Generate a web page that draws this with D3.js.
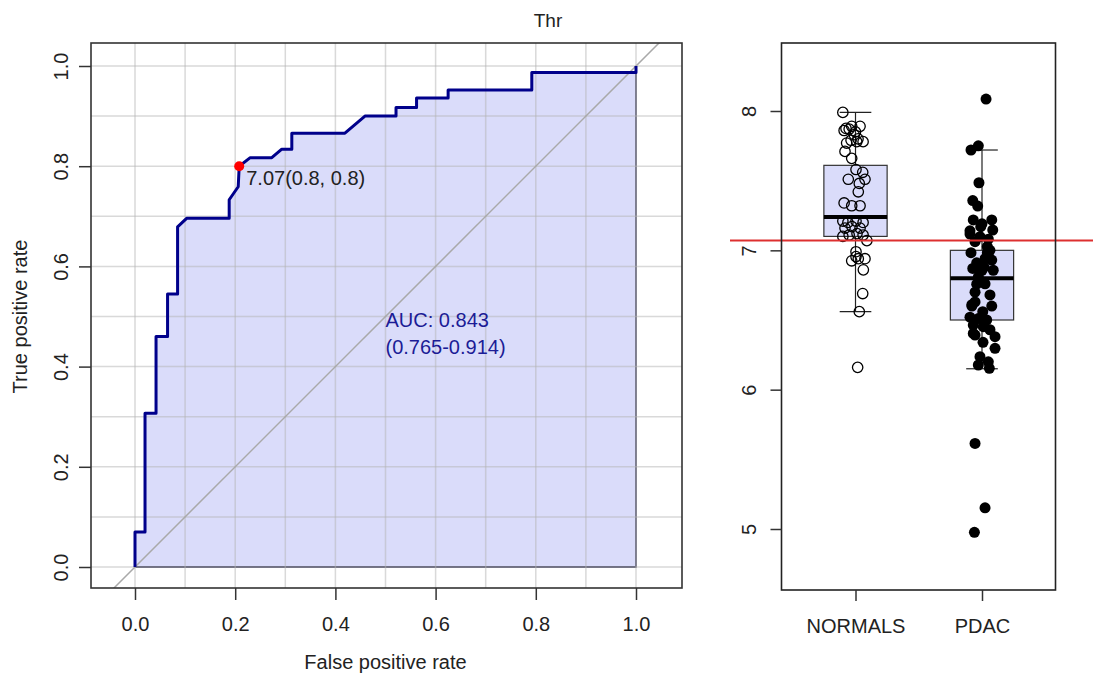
<!DOCTYPE html>
<html>
<head>
<meta charset="utf-8">
<script src="https://cdnjs.cloudflare.com/ajax/libs/d3/7.8.5/d3.min.js"></script>
<style>
  body { margin: 0; background: #fff; }
  text { font-family: "Liberation Sans", Arial, sans-serif; fill: #222; }
</style>
</head>
<body>
<div id="display"></div>
<script>
// ROC curve steps (false positive rate, true positive rate)
var rocFpr = [0, 0, 0.02, 0.02, 0.042, 0.042, 0.065, 0.065, 0.085, 0.085, 0.103, 0.188, 0.188, 0.206, 0.208,
  0.23, 0.273, 0.293, 0.313, 0.313, 0.419, 0.459, 0.521, 0.521, 0.562, 0.562, 0.625, 0.625, 0.792, 0.792, 1.0, 1.0];
var rocTpr = [0, 0.07, 0.07, 0.307, 0.307, 0.46, 0.46, 0.545, 0.545, 0.679, 0.696, 0.696, 0.733, 0.759, 0.8,
  0.817, 0.817, 0.834, 0.834, 0.866, 0.866, 0.9, 0.9, 0.917, 0.917, 0.936, 0.936, 0.952, 0.952, 0.987, 0.987, 1.0];
var bestPoint = [0.208, 0.8];
var bestLabel = "7.07(0.8, 0.8)";
var aucLines = ["AUC: 0.843", "(0.765-0.914)"];
var rocTicks = [0, 0.2, 0.4, 0.6, 0.8, 1.0];
var gridSteps = [0, 0.1, 0.2, 0.3, 0.4, 0.5, 0.6, 0.7, 0.8, 0.9, 1.0];

// boxplot part
var groups = ["NORMALS", "PDAC"];
var threshold = 7.07;
var boxTicks = [5, 6, 7, 8];
var whiskLo = [6.56, 6.15];
var q1 = [7.10, 6.50];
var medians = [7.24, 6.80];
var q3 = [7.61, 7.00];
var whiskHi = [7.99, 7.72];

var normalsVals = [7.99, 7.89, 7.875, 7.89, 7.85, 7.86, 7.87, 7.83, 7.80, 7.79, 7.78, 7.77, 7.78, 7.71, 7.66,
  7.58, 7.56, 7.51, 7.51, 7.48, 7.42, 7.34, 7.32, 7.32, 7.21, 7.20, 7.21, 7.20, 7.16, 7.17, 7.16, 7.10, 7.11,
  7.12, 7.07, 7.11, 6.99, 6.925, 6.94, 6.94, 6.955, 6.86, 6.69, 6.56, 6.16];
var normalsJitter = [-0.10, 0.036, -0.075, -0.03, 0.0, -0.09, -0.05, -0.01, 0.02, -0.035, 0.06, -0.07, 0.01, -0.083, -0.03,
  0.004, 0.057, -0.057, 0.075, 0.03, 0.022, -0.09, -0.03, 0.036, -0.1, -0.06, 0.004, 0.06, -0.083, -0.028, 0.036, -0.1, -0.05,
  0.012, 0.09, 0.06, 0.004, -0.03, 0.022, 0.075, 0.004, 0.062, 0.057, 0.03, 0.017];
var pdacVals = [8.086, 7.72, 7.75, 7.485, 7.357, 7.318, 7.218, 7.218, 7.17, 7.146, 7.117, 7.098, 7.08, 7.062, 7.026,
  6.983, 6.983, 6.93, 6.91, 6.87, 6.88, 6.857, 6.81, 6.757, 6.63, 6.68, 6.60, 6.56, 6.60, 6.52, 6.51, 6.50, 6.464,
  6.452, 6.43, 6.392, 6.38, 6.297, 6.237, 6.20, 6.177, 6.153, 5.614, 5.152, 4.976, 6.404, 6.61, 6.94, 6.857, 6.76,
  7.19, 7.14, 7.0, 6.70, 6.34];
var pdacJitter = [0.032, -0.087, -0.029, -0.024, -0.073, -0.034, -0.069, 0.077, -0.01, 0.085, -0.095, -0.016, 0.05, -0.055, 0.042,
  -0.087, 0.042, 0.077, -0.042, -0.073, 0.016, 0.089, -0.029, -0.042, -0.055, 0.063, -0.08, 0.006, 0.077, -0.095, -0.029, 0.037, -0.069,
  0.01, 0.063, -0.055, 0.103, 0.103, -0.016, 0.05, -0.029, 0.058, -0.055, 0.024, -0.06, -0.069, -0.08, 0.024, 0.0, 0.024,
  0.0, -0.095, 0.063, -0.055, 0.008];

var svg = d3.select("#display").append("svg").attr("width", 1093).attr("height", 673);

// ---------- ROC panel ----------
var xR = d3.scaleLinear().domain([0, 1]).range([135, 636]);
var yR = d3.scaleLinear().domain([0, 1]).range([567, 66]);
var rocBox = {x0: 91, x1: 682, y0: 43, y1: 588};

svg.append("defs").append("clipPath").attr("id", "rocClip")
  .append("rect").attr("x", rocBox.x0).attr("y", rocBox.y0)
  .attr("width", rocBox.x1 - rocBox.x0).attr("height", rocBox.y1 - rocBox.y0);

var rocPts = rocFpr.map(function(d, i){ return [d, rocTpr[i]]; });
var polyPts = rocPts.concat([[1, 0], [0, 0]]);

//auc polygon
svg.append("path")
  .attr("d", d3.line().x(function(d){ return xR(d[0]); }).y(function(d){ return yR(d[1]); })(polyPts) + "Z")
  .attr("fill", "#dadcfa")
  .attr("stroke", "#1a1a3a")
  .attr("stroke-width", 1.3);

//grid, a bit transparent so it shows on the polygon
var grid = svg.append("g").attr("stroke", "#b4b4b4").attr("stroke-opacity", 0.5).attr("stroke-width", 1.5);
grid.selectAll(".gv").data(gridSteps).enter().append("line")
  .attr("x1", function(d){ return xR(d); }).attr("x2", function(d){ return xR(d); })
  .attr("y1", rocBox.y0).attr("y2", rocBox.y1);
grid.selectAll(".gh").data(gridSteps).enter().append("line")
  .attr("y1", function(d){ return yR(d); }).attr("y2", function(d){ return yR(d); })
  .attr("x1", rocBox.x0).attr("x2", rocBox.x1);

//diagonal reference
svg.append("line")
  .attr("clip-path", "url(#rocClip)")
  .attr("x1", xR(-0.2)).attr("y1", yR(-0.2))
  .attr("x2", xR(1.2)).attr("y2", yR(1.2))
  .attr("stroke", "#a9a9a9").attr("stroke-width", 1.5);

//roc curve
svg.append("path")
  .attr("d", d3.line().x(function(d){ return xR(d[0]); }).y(function(d){ return yR(d[1]); })(rocPts))
  .attr("fill", "none")
  .attr("stroke", "#00008b")
  .attr("stroke-width", 3)
  .attr("stroke-linejoin", "round");

svg.append("circle")
  .attr("cx", xR(bestPoint[0])).attr("cy", yR(bestPoint[1])).attr("r", 5)
  .attr("fill", "#ff0000");
svg.append("text")
  .attr("x", xR(bestPoint[0]) + 7).attr("y", yR(bestPoint[1]) + 19)
  .attr("font-size", "20px")
  .text(bestLabel);

svg.append("text").selectAll("tspan")
  .data(aucLines).enter().append("tspan")
    .attr("x", xR(0.5))
    .attr("y", function(d, i){ return yR(0.48) + i * 27; })
    .attr("font-size", "20px")
    .style("fill", "#1c1c96")
    .text(function(d){ return d; });

//frame
svg.append("rect")
  .attr("x", rocBox.x0).attr("y", rocBox.y0)
  .attr("width", rocBox.x1 - rocBox.x0).attr("height", rocBox.y1 - rocBox.y0)
  .attr("fill", "none").attr("stroke", "#333").attr("stroke-width", 1.6);

//axes
var xAxisR = svg.append("g").attr("transform", "translate(0," + rocBox.y1 + ")")
  .call(d3.axisBottom(xR).tickValues(rocTicks).tickFormat(d3.format(".1f")).tickSize(12).tickPadding(17));
var yAxisR = svg.append("g").attr("transform", "translate(" + rocBox.x0 + ",0)")
  .call(d3.axisLeft(yR).tickValues(rocTicks).tickFormat(d3.format(".1f")).tickSize(12).tickPadding(6));
yAxisR.selectAll(".tick text")
  .attr("transform", "rotate(-90)")
  .attr("x", 0).attr("y", -30)
  .attr("text-anchor", "middle")
  .attr("dy", "0.35em");

svg.append("text")
  .attr("x", (xR(0) + xR(1)) / 2).attr("y", 669)
  .attr("text-anchor", "middle").attr("font-size", "20px")
  .text("False positive rate");
svg.append("text")
  .attr("transform", "translate(27," + yR(0.5) + ") rotate(-90)")
  .attr("text-anchor", "middle").attr("font-size", "20px")
  .text("True positive rate");

svg.append("text")
  .attr("x", 548).attr("y", 27)
  .attr("text-anchor", "middle").attr("font-size", "19px")
  .text("Thr");

// ---------- box panel ----------
var xB = d3.scaleLinear().domain([1, 2]).range([855.5, 982]);
var yB = d3.scaleLinear().domain([5, 8]).range([529, 111]);
var bBox = {x0: 781.5, x1: 1055.5, y0: 43, y1: 590};

var bx = svg.append("g");
groups.forEach(function(g, i){
  var pos = i + 1;
  bx.append("line")
    .attr("x1", xB(pos)).attr("x2", xB(pos))
    .attr("y1", yB(whiskLo[i])).attr("y2", yB(whiskHi[i]))
    .attr("stroke", "#222").attr("stroke-width", 1.2);
  [whiskLo[i], whiskHi[i]].forEach(function(w){
    bx.append("line")
      .attr("x1", xB(pos - 0.125)).attr("x2", xB(pos + 0.125))
      .attr("y1", yB(w)).attr("y2", yB(w))
      .attr("stroke", "#222").attr("stroke-width", 1.2);
  });
  bx.append("rect")
    .attr("x", xB(pos - 0.25)).attr("width", xB(pos + 0.25) - xB(pos - 0.25))
    .attr("y", yB(q3[i])).attr("height", yB(q1[i]) - yB(q3[i]))
    .attr("fill", "#dadcfa").attr("stroke", "#333").attr("stroke-width", 1.2);
  bx.append("line")
    .attr("x1", xB(pos - 0.25)).attr("x2", xB(pos + 0.25))
    .attr("y1", yB(medians[i])).attr("y2", yB(medians[i]))
    .attr("stroke", "#000").attr("stroke-width", 4);
});

//jittered points
svg.append("g").selectAll("circle")
  .data(normalsVals).enter().append("circle")
    .attr("cx", function(d, i){ return xB(1 + normalsJitter[i]); })
    .attr("cy", function(d){ return yB(d); })
    .attr("r", 5.2)
    .attr("fill", "none").attr("stroke", "#000").attr("stroke-width", 1.3);
svg.append("g").selectAll("circle")
  .data(pdacVals).enter().append("circle")
    .attr("cx", function(d, i){ return xB(2 + pdacJitter[i]); })
    .attr("cy", function(d){ return yB(d); })
    .attr("r", 5.5)
    .attr("fill", "#000");

svg.append("line")
  .attr("x1", 730).attr("x2", 1093)
  .attr("y1", yB(threshold)).attr("y2", yB(threshold))
  .attr("stroke", "#dd3030").attr("stroke-width", 2);

svg.append("rect")
  .attr("x", bBox.x0).attr("y", bBox.y0)
  .attr("width", bBox.x1 - bBox.x0).attr("height", bBox.y1 - bBox.y0)
  .attr("fill", "none").attr("stroke", "#222").attr("stroke-width", 1.6);

var xAxisB = svg.append("g").attr("transform", "translate(0," + bBox.y1 + ")")
  .call(d3.axisBottom(xB).tickValues([1, 2]).tickFormat(function(d){ return groups[d - 1]; }).tickSize(11).tickPadding(18));
var yAxisB = svg.append("g").attr("transform", "translate(" + bBox.x0 + ",0)")
  .call(d3.axisLeft(yB).tickValues(boxTicks).tickFormat(d3.format("d")).tickSize(11));
yAxisB.selectAll(".tick text")
  .attr("transform", "rotate(-90)")
  .attr("x", 0).attr("y", -33)
  .attr("text-anchor", "middle")
  .attr("dy", "0.35em");

[xAxisR, yAxisR, xAxisB, yAxisB].forEach(function(a){
  a.select(".domain").remove();
  a.selectAll(".tick line").attr("stroke", "#333").attr("stroke-width", 1.5);
  a.selectAll(".tick text").attr("font-size", "20px").style("font-family", "Liberation Sans, Arial, sans-serif").attr("fill", "#222");
});
</script>
</body>
</html>
